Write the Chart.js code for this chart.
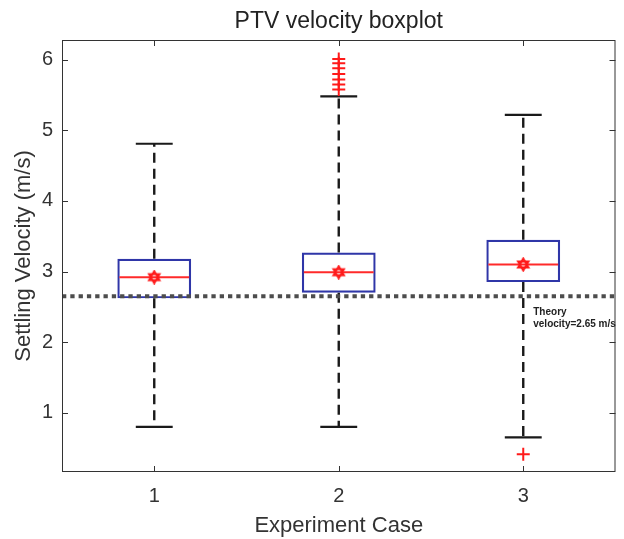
<!DOCTYPE html>
<html>
<head>
<meta charset="utf-8">
<script src="https://cdn.jsdelivr.net/npm/chart.js@4"></script>
<style>
  html, body { margin: 0; padding: 0; background: #fff; }
  #wrap { width: 624px; height: 539px; }
</style>
</head>
<body>
<div id="wrap"><canvas id="chart1"></canvas></div>
<script>
//--------------------------------------DATOS
var categorias = ['1', '2', '3'];
var cuartil1 = [2.62, 2.70, 2.85];
var cuartil3 = [3.18, 3.27, 3.45];
var medianas = [2.92, 2.99, 3.10];
var medias = [2.92, 2.99, 3.10];
var bigoteMin = [0.80, 0.80, 0.65];
var bigoteMax = [4.81, 5.48, 5.22];
var atipicos = [[], [5.58, 5.65, 5.72, 5.80, 5.88, 5.95, 6.01], [0.41]];
var ticksY = [1, 2, 3, 4, 5, 6];
var velocidadTeorica = 2.65;
var textoTeorico = ['Theory', 'velocity=2.65 m/s'];

//--------------------------------------MARCADOR
function hexagrama(size, color) {
    var c = document.createElement('canvas');
    c.width = size;
    c.height = size;
    var g = c.getContext('2d');
    var cx = size / 2, cy = size / 2, r = size / 2 - 1.5;
    g.strokeStyle = color;
    g.lineWidth = 2;
    [-90, 90].forEach(function (a0) {
        g.beginPath();
        for (var k = 0; k < 3; k++) {
            var a = (a0 + k * 120) * Math.PI / 180;
            var px = cx + r * Math.cos(a), py = cy + r * Math.sin(a);
            if (k == 0) g.moveTo(px, py); else g.lineTo(px, py);
        }
        g.closePath();
        g.stroke();
    });
    return c;
}

//--------------------------------------PLUGIN CAJAS
var cajaPlugin = {
    id: 'cajas',
    afterDatasetDraw: function (chart, args) {
        if (args.index != 2) return;
        var ctx = chart.ctx;
        var y = chart.scales.y;
        var area = chart.chartArea;
        var meta = chart.getDatasetMeta(2);
        ctx.save();
        for (var i = 0; i < categorias.length; i++) {
            var bar = meta.data[i];
            var x = bar.x, w = bar.width;
            // bigotes
            ctx.strokeStyle = '#1a1a1a';
            ctx.lineWidth = 2.4;
            ctx.setLineDash([10, 6]);
            ctx.beginPath();
            ctx.moveTo(x, y.getPixelForValue(cuartil3[i]));
            ctx.lineTo(x, y.getPixelForValue(bigoteMax[i]));
            ctx.moveTo(x, y.getPixelForValue(cuartil1[i]));
            ctx.lineTo(x, y.getPixelForValue(bigoteMin[i]));
            ctx.stroke();
            ctx.setLineDash([]);
            ctx.lineWidth = 2.2;
            ctx.beginPath();
            ctx.moveTo(x - w / 4, y.getPixelForValue(bigoteMax[i]));
            ctx.lineTo(x + w / 4, y.getPixelForValue(bigoteMax[i]));
            ctx.moveTo(x - w / 4, y.getPixelForValue(bigoteMin[i]));
            ctx.lineTo(x + w / 4, y.getPixelForValue(bigoteMin[i]));
            ctx.stroke();
            // mediana
            ctx.strokeStyle = '#ff2a2a';
            ctx.lineWidth = 2;
            ctx.beginPath();
            ctx.moveTo(x - w / 2 + 2, y.getPixelForValue(medianas[i]));
            ctx.lineTo(x + w / 2 - 2, y.getPixelForValue(medianas[i]));
            ctx.stroke();
        }
        // linea teorica
        var yt = y.getPixelForValue(velocidadTeorica);
        ctx.strokeStyle = '#4d4d4d';
        ctx.lineWidth = 4;
        ctx.setLineDash([4.3, 4]);
        ctx.beginPath();
        ctx.moveTo(area.left, yt);
        ctx.lineTo(area.right, yt);
        ctx.stroke();
        ctx.setLineDash([]);
        ctx.fillStyle = '#222';
        ctx.font = 'bold 10px "Liberation Sans", Arial, sans-serif';
        ctx.textAlign = 'left';
        ctx.textBaseline = 'middle';
        var xt = chart.scales.x.getPixelForValue(2) + 10;
        ctx.fillText(textoTeorico[0], xt, yt + 16);
        ctx.fillText(textoTeorico[1], xt, yt + 28);
        ctx.restore();
    },
    afterDraw: function (chart) {
        var ctx = chart.ctx;
        var a = chart.chartArea;
        var xs = chart.scales.x, ys = chart.scales.y;
        ctx.save();
        ctx.strokeStyle = '#333';
        ctx.lineWidth = 1;
        ctx.strokeRect(a.left + 0.5, a.top + 0.5, a.right - a.left - 1, a.bottom - a.top - 1);
        ctx.beginPath();
        ticksY.forEach(function (v) {
            var py = Math.round(ys.getPixelForValue(v)) + 0.5;
            ctx.moveTo(a.left, py); ctx.lineTo(a.left + 6, py);
            ctx.moveTo(a.right, py); ctx.lineTo(a.right - 6, py);
        });
        categorias.forEach(function (c, i) {
            var px = Math.round(xs.getPixelForValue(i)) + 0.5;
            ctx.moveTo(px, a.bottom); ctx.lineTo(px, a.bottom - 6);
            ctx.moveTo(px, a.top); ctx.lineTo(px, a.top + 6);
        });
        ctx.stroke();
        ctx.restore();
    }
};

//--------------------------------------GRAFICA
var puntosAtipicos = [];
atipicos.forEach(function (lista, i) {
    lista.forEach(function (v) {
        puntosAtipicos.push({x: categorias[i], y: v});
    });
});
var puntosMedias = medias.map(function (m, i) {
    return {x: categorias[i], y: m};
});

var fuente = '"Liberation Sans", Arial, sans-serif';
var popCanvas = document.getElementById('chart1');
var boxChart = new Chart(popCanvas, {
    type: 'bar',
    data: {
        labels: categorias,
        datasets: [{
            type: 'line',
            label: 'Media',
            data: puntosMedias,
            showLine: false,
            pointStyle: hexagrama(15, '#ff1a1a'),
            pointRadius: 7,
            order: 0
        }, {
            type: 'line',
            label: 'Atipicos',
            data: puntosAtipicos,
            showLine: false,
            pointStyle: 'cross',
            pointRadius: 6.5,
            borderColor: '#ff1a1a',
            borderWidth: 2,
            order: 1
        }, {
            label: 'Caja',
            data: cuartil1.map(function (v, i) { return [v, cuartil3[i]]; }),
            backgroundColor: 'rgba(255,255,255,0)',
            borderColor: '#2f36a8',
            borderWidth: 2.2,
            borderSkipped: false,
            barPercentage: 0.4,
            categoryPercentage: 1,
            order: 2
        }]
    },
    options: {
        responsive: true,
        maintainAspectRatio: false,
        animation: false,
        layout: {padding: {left: 0, right: 6, top: 0, bottom: 0}},
        plugins: {
            legend: {display: false},
            tooltip: {enabled: false},
            title: {
                display: true,
                fullSize: false,
                text: 'PTV velocity boxplot',
                color: '#222',
                font: {family: fuente, size: 23, weight: 'normal'},
                padding: {top: 7.5, bottom: 4.9}
            }
        },
        scales: {
            x: {
                type: 'category',
                offset: true,
                grid: {display: false, drawTicks: false},
                border: {display: false},
                ticks: {color: '#333', padding: 12, font: {family: fuente, size: 20}},
                title: {display: true, text: 'Experiment Case', color: '#333',
                    font: {family: fuente, size: 22}, padding: {top: 2, bottom: 0}},
                afterFit: function (s) { s.height = 67; }
            },
            y: {
                min: 0.16,
                max: 6.28,
                grid: {display: false, drawTicks: false},
                border: {display: false},
                ticks: {color: '#333', padding: 9, font: {family: fuente, size: 20}},
                afterBuildTicks: function (s) {
                    s.ticks = ticksY.map(function (v) { return {value: v}; });
                },
                title: {display: true, text: 'Settling Velocity (m/s)', color: '#333',
                    font: {family: fuente, size: 22}, padding: {top: 10.8, bottom: 2}},
                afterFit: function (s) { s.width = 62; }
            }
        }
    },
    plugins: [cajaPlugin]
});
</script>
</body>
</html>
